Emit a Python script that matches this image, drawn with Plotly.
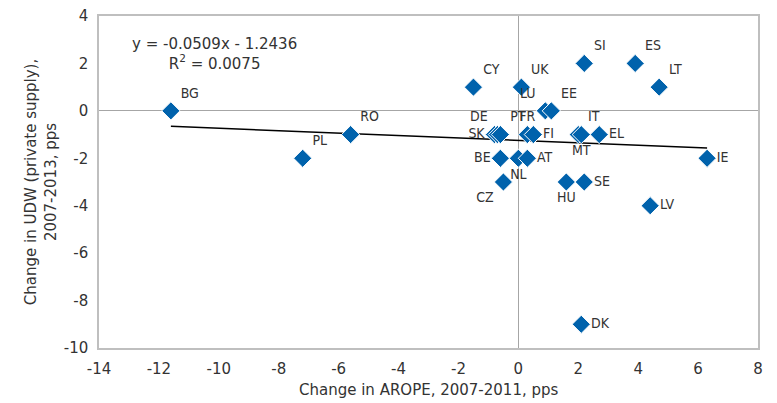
import plotly.graph_objects as go

countries = ["BG", "RO", "PL", "CY", "UK", "LU", "EE", "SK", "DE", "PT", "FR", "FI",
             "IT", "MT", "EL", "BE", "NL", "AT", "CZ", "HU", "SE", "SI", "ES", "LT",
             "IE", "LV", "DK"]
arope_change = [-11.6, -5.6, -7.2, -1.5, 0.1, 0.9, 1.1, -0.8, -0.7, -0.6, 0.3, 0.5,
                2.0, 2.1, 2.7, -0.6, 0.0, 0.3, -0.5, 1.6, 2.2, 2.2, 3.9, 4.7,
                6.3, 4.4, 2.1]
udw_change = [0, -1, -2, 1, 1, 0, 0, -1, -1, -1, -1, -1,
              -1, -1, -1, -2, -2, -2, -3, -3, -3, 2, 2, 1,
              -2, -4, -9]
label_pos = ["top right", "top right", "top right", "top right", "top right", "top left",
             "top right", "middle left", "top left", "top right", "top center", "middle right",
             "top right", "bottom center", "middle right", "middle left", "bottom center",
             "middle right", "bottom left", "bottom center", "middle right", "top right",
             "top right", "top right", "middle right", "middle right", "middle right"]

slope = -0.0509
intercept = -1.2436
r_squared = 0.0075

x_title = "Change in AROPE, 2007-2011, pps"
y_title = "Change in UDW (private supply),<br>2007-2013, pps"

x_ticks = list(range(-14, 9, 2))
y_ticks = list(range(-10, 5, 2))

trend_x = [min(arope_change), max(arope_change)]
trend_y = [slope * v + intercept for v in trend_x]

label_font = dict(family="Liberation Sans Narrow, DejaVu Sans Condensed, sans-serif", size=14, color="#333333")
axis_font = dict(family="DejaVu Sans, sans-serif", size=15, color="#333333")

fig = go.Figure()
fig.add_trace(go.Scatter(
    x=trend_x, y=trend_y, mode="lines",
    line=dict(color="#000000", width=1.5), hoverinfo="skip", showlegend=False))
fig.add_trace(go.Scatter(
    x=arope_change, y=udw_change, mode="markers+text",
    text=countries, textposition=label_pos, textfont=label_font,
    marker=dict(symbol="diamond", size=14, color="#0062AC",
                line=dict(color="#FFFFFF", width=1)),
    showlegend=False))

fig.add_annotation(
    xref="paper", yref="paper", x=0.047, y=0.95, xanchor="left", yanchor="top",
    text=f"y = {slope}x - {abs(intercept)}<br>R<sup>2</sup> = {r_squared}",
    showarrow=False, align="center",
    font=dict(family="DejaVu Sans, sans-serif", size=15, color="#333333"))

fig.add_annotation(
    xref="paper", yref="paper", x=0.5, y=-0.128, xanchor="center", yanchor="middle",
    text=x_title, showarrow=False, font=axis_font)

fig.update_xaxes(
    range=[-14, 8], tickvals=x_ticks, ticktext=[str(v) for v in x_ticks],
    showgrid=False, zeroline=True, zerolinecolor="#A6A6A6", zerolinewidth=1,
    showline=True, linecolor="#BFBFBF", linewidth=1.5, mirror=True,
    ticks="", tickfont=axis_font, ticklabelstandoff=6, automargin=False,
    ticklabeloverflow="allow")
fig.update_yaxes(
    range=[-10, 4], tickvals=y_ticks, ticktext=[str(v) for v in y_ticks],
    showgrid=False, zeroline=True, zerolinecolor="#A6A6A6", zerolinewidth=1,
    showline=True, linecolor="#BFBFBF", linewidth=1.5, mirror=True,
    ticks="", tickfont=axis_font, ticklabelstandoff=6, automargin=False,
    ticklabeloverflow="allow",
    title=dict(text=y_title, font=axis_font, standoff=4))

fig.update_layout(
    width=777, height=403,
    margin=dict(l=99, r=19, t=16, b=55),
    paper_bgcolor="#FFFFFF", plot_bgcolor="#FFFFFF",
    showlegend=False)

# remove the browser's default 8px page margin so the figure fills the window
fig.write_html("out.html",
               config={"displayModeBar": False},
               post_script="document.body.style.margin='0';document.body.style.overflow='hidden';")
